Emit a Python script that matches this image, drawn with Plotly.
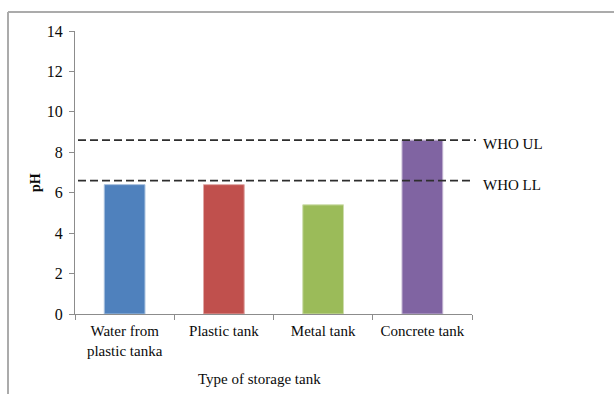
import plotly.graph_objects as go

# Storage tank types and measured pH
categories = ["Water from<br>plastic tanka", "Plastic tank", "Metal tank", "Concrete tank"]
ph_values = [6.4, 6.4, 5.4, 8.6]
bar_colors = ["#4F81BD", "#C0504D", "#9BBB59", "#8064A2"]
edge_colors = ["#A7C0DE", "#E0A8A6", "#CDDDAC", "#BFB1D0"]

# WHO guideline limits for pH
who_upper = 8.6
who_lower = 6.6

y_ticks = [0, 2, 4, 6, 8, 10, 12, 14]

# Plot-area position in pixels, used to place paper-referenced items
W, H = 614, 394
L, R, T, B = 75, 142, 31, 80
pw, ph = W - L - R, H - T - B


def px_x(x):
    return (x - L) / pw


def px_y(y):
    return (H - B - y) / ph


fig = go.Figure()
fig.add_trace(go.Bar(
    x=categories,
    y=ph_values,
    width=0.41,
    marker=dict(color=bar_colors, line=dict(color=edge_colors, width=1)),
    showlegend=False,
))

serif = "Liberation Serif, Times New Roman, serif"
ink = "#0a0a0a"

shapes = [
    # WHO limit lines
    dict(type="line", xref="paper", yref="y", x0=px_x(78), x1=px_x(476),
         y0=who_upper, y1=who_upper, line=dict(color="#2e2e2e", width=1.7, dash="8px,4px")),
    dict(type="line", xref="paper", yref="y", x0=px_x(78), x1=px_x(470),
         y0=who_lower, y1=who_lower, line=dict(color="#2e2e2e", width=1.7, dash="8px,4px")),
    # outer frame (top and left edges)
    dict(type="line", xref="paper", yref="paper", x0=px_x(8), x1=px_x(614),
         y0=px_y(12), y1=px_y(12), line=dict(color="#ababab", width=2)),
    dict(type="line", xref="paper", yref="paper", x0=px_x(8), x1=px_x(8),
         y0=px_y(12), y1=px_y(394), line=dict(color="#ababab", width=2)),
]

annotations = [
    dict(text="WHO UL", xref="paper", yref="y", x=px_x(481), y=who_upper,
         xanchor="left", yanchor="middle", yshift=-4, showarrow=False,
         font=dict(family=serif, size=15, color=ink)),
    dict(text="WHO LL", xref="paper", yref="y", x=px_x(481), y=who_lower,
         xanchor="left", yanchor="middle", yshift=-4, showarrow=False,
         font=dict(family=serif, size=15, color=ink)),
    dict(text="Type of storage tank", xref="paper", yref="paper",
         x=px_x(259), y=px_y(379), xanchor="center", yanchor="middle",
         showarrow=False, font=dict(family=serif, size=15, color=ink)),
    dict(text="<b>pH</b>", xref="paper", yref="paper", x=px_x(35), y=px_y(183),
         xanchor="center", yanchor="middle", textangle=-90, showarrow=False,
         font=dict(family=serif, size=14, color=ink)),
]

fig.update_layout(
    width=W, height=H,
    margin=dict(l=L, r=R, t=T, b=B),
    paper_bgcolor="white", plot_bgcolor="white",
    shapes=shapes,
    annotations=annotations,
    xaxis=dict(
        range=[-0.5, 3.5], tickson="boundaries", ticks="outside", ticklen=5,
        tickcolor="#8c8c8c", showline=True, linecolor="#8c8c8c", linewidth=1,
        showgrid=False, tickfont=dict(family=serif, size=15, color=ink),
        ticklabelstandoff=3, fixedrange=True,
    ),
    yaxis=dict(
        range=[0, 14], tickvals=y_ticks, ticks="outside", ticklen=5,
        tickcolor="#8c8c8c", showline=True, linecolor="#8c8c8c", linewidth=1,
        showgrid=False, zeroline=False, ticklabelstandoff=3,
        tickfont=dict(family=serif, size=16, color=ink),
    ),
)

fig.write_html("out.html")
